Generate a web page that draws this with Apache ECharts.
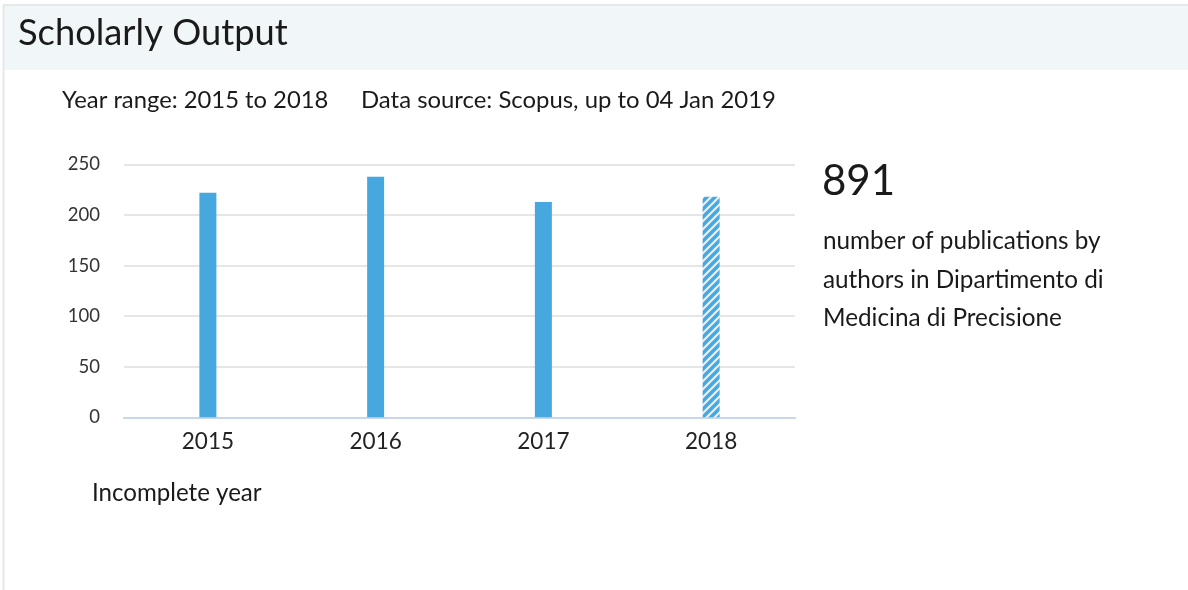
<!DOCTYPE html>
<html>
<head>
<meta charset="utf-8">
<style>
  html, body { margin: 0; padding: 0; background: #ffffff; }
  #chart { width: 1188px; height: 590px; }
</style>
<script src="https://cdn.jsdelivr.net/npm/echarts@6/dist/echarts.min.js"></script>
</head>
<body>
<div id="chart"></div>
<script>
// Publications per year; the last year is still incomplete.
const years = ['2015', '2016', '2017', '2018'];
const publications = [222, 238, 213, 218];
const incompleteYear = '2018';
const yTicks = [0, 50, 100, 150, 200, 250];

const total = publications.reduce((a, b) => a + b, 0);
const FONT = 'Lato, "Open Sans", sans-serif';
const BLUE = '#47a8e0';

// Diagonal hatch used for the incomplete year
function hatchPattern() {
  const c = document.createElement('canvas');
  const s = 8;
  c.width = s; c.height = s;
  const ctx = c.getContext('2d');
  ctx.fillStyle = '#e2f0fa';
  ctx.fillRect(0, 0, s, s);
  ctx.strokeStyle = BLUE;
  ctx.lineWidth = 3.4;
  ctx.beginPath();
  ctx.moveTo(-1, s + 1); ctx.lineTo(s + 1, -1);
  ctx.moveTo(-2, 2); ctx.lineTo(2, -2);
  ctx.moveTo(s - 2, s + 2); ctx.lineTo(s + 2, s - 2);
  ctx.stroke();
  return { image: c, repeat: 'repeat' };
}
const hatch = hatchPattern();

const barData = years.map((y, i) => ({
  value: publications[i],
  itemStyle: { color: y === incompleteYear ? hatch : BLUE }
}));

const chart = echarts.init(document.getElementById('chart'), null, { renderer: 'canvas' });
chart.setOption({
  animation: false,
  backgroundColor: '#ffffff',
  grid: { left: 124, right: 393, top: 164.5, bottom: 172.7, containLabel: false },
  xAxis: {
    type: 'category',
    data: years,
    axisLine: { lineStyle: { color: '#c9d5ea', width: 2 } },
    axisTick: { show: false },
    axisLabel: { color: '#222', fontFamily: FONT, fontSize: 22.5, margin: 13 }
  },
  yAxis: {
    type: 'value',
    min: yTicks[0],
    max: yTicks[yTicks.length - 1],
    interval: yTicks[1] - yTicks[0],
    axisLine: { show: false },
    axisTick: { show: false },
    axisLabel: { color: '#333', fontFamily: FONT, fontSize: 18.5, margin: 24 },
    splitLine: { lineStyle: { color: '#e6e6e6', width: 2 } }
  },
  series: [{
    type: 'bar',
    data: barData,
    barWidth: 17
  }],
  graphic: [
    // panel header band and borders
    { type: 'rect', shape: { x: 4, y: 6, width: 1184, height: 64 }, style: { fill: '#f1f6f9' }, silent: true },
    { type: 'line', shape: { x1: 3, y1: 5, x2: 1188, y2: 5 }, style: { stroke: '#e6e8ea', lineWidth: 2 }, silent: true },
    { type: 'line', shape: { x1: 3.5, y1: 5, x2: 3.5, y2: 590 }, style: { stroke: '#e6e8ea', lineWidth: 2 }, silent: true },
    { type: 'text', left: 18, top: 15, style: { text: 'Scholarly Output', font: '36.3px ' + FONT, fill: '#1a1a1a' } },
    { type: 'text', left: 62, top: 88, style: { text: 'Year range: 2015 to 2018', font: '23.8px ' + FONT, fill: '#1a1a1a' } },
    { type: 'text', left: 361, top: 88, style: { text: 'Data source: Scopus, up to 04 Jan 2019', font: '23.9px ' + FONT, fill: '#1a1a1a' } },
    { type: 'text', left: 822, top: 160, style: { text: String(total), font: '42px ' + FONT, fill: '#1a1a1a' } },
    { type: 'text', left: 823, top: 222, style: {
        text: 'number of publications by\nauthors in Dipartimento di\nMedicina di Precisione',
        font: '24.3px ' + FONT, lineHeight: 38.5, fill: '#1a1a1a' } },
    { type: 'text', left: 92, top: 481, style: { text: 'Incomplete year', font: '24.1px ' + FONT, fill: '#1a1a1a' } }
  ]
});
</script>
</body>
</html>
